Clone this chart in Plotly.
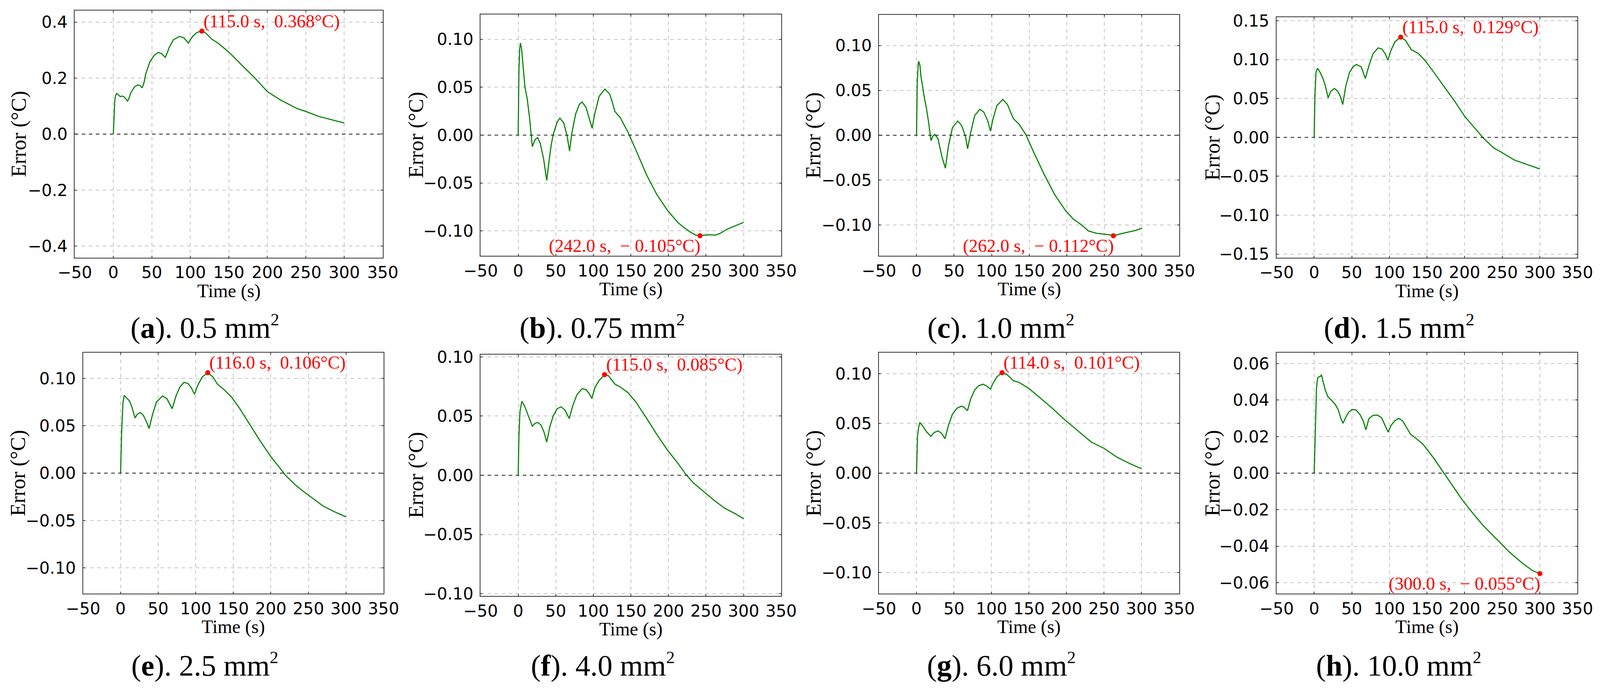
import plotly.graph_objects as go
from plotly.subplots import make_subplots

W, H = 4269, 1772

# ---- data (time in s, error in degC) ----
t_a = [0, 1, 2, 3, 4.5, 7, 9, 11.5, 14, 16, 18.5, 20.5, 22.5, 25, 28, 32, 35, 37.5, 40, 42, 45, 47.5,
       53, 58.5, 63, 67.5, 70, 72.5, 78, 86, 92, 97.5, 100, 103, 108.5, 115, 120, 125, 128, 136,
       150, 167, 184, 200, 217, 239, 250, 267, 284, 300]
err_a = [0.0, 0.075, 0.122, 0.138, 0.145, 0.139, 0.134, 0.136, 0.133, 0.127, 0.118, 0.128, 0.146,
         0.158, 0.170, 0.176, 0.173, 0.165, 0.185, 0.214, 0.238, 0.258, 0.281, 0.292, 0.287, 0.274,
         0.290, 0.309, 0.337, 0.349, 0.343, 0.325, 0.337, 0.349, 0.363, 0.368, 0.361, 0.347, 0.339,
         0.325, 0.293, 0.246, 0.200, 0.152, 0.122, 0.091, 0.081, 0.063, 0.051, 0.040]

t_b = [0, 1, 2, 3, 4.5, 5.6, 7.5, 9, 12, 15.3, 18.8, 22.3, 25.8, 29.3, 33.8, 38, 41.5, 44, 46.7, 52,
       55.5, 60.7, 65.2, 68.4, 71.2, 76.4, 81.6, 85.1, 90.3, 95.6, 98.4, 101.8, 107.8, 115.5, 121.7,
       125, 128.7, 135.7, 146, 156.6, 170.6, 184.5, 198.5, 212.4, 219.4, 229.9, 236.9, 242, 247.3,
       254.3, 262, 268.2, 278.7, 289.2, 300]
err_b = [0.0, 0.0685, 0.090, 0.096, 0.090, 0.080, 0.062, 0.050, 0.038, 0.017, -0.012, -0.005,
         -0.0026, -0.0084, -0.0247, -0.0473, -0.0247, -0.010, 0.001, 0.0138, 0.0177, 0.0126,
         -0.0014, -0.0166, 0.0009, 0.0219, 0.0324, 0.0345, 0.0289, 0.0149, 0.0072, 0.0219, 0.0406,
         0.048, 0.0429, 0.035, 0.0247, 0.0184, 0.0033, -0.0154, -0.041, -0.062, -0.0783, -0.0911,
         -0.0958, -0.1016, -0.1045, -0.105, -0.1044, -0.1040, -0.1044, -0.1028, -0.098, -0.0946,
         -0.0911]

t_c = [0, 1, 2.4, 3.1, 4.5, 6, 8, 10, 13.6, 16.5, 19.2, 21.6, 24.4, 28.6, 33.8, 38.4, 42.6, 47.8,
       54.8, 60, 65.2, 68, 72.2, 77.4, 84.4, 89.6, 94.9, 98.4, 101.8, 107, 114.8, 121, 128.7, 136.7,
       145.4, 155.9, 169.9, 183.8, 197.8, 208.3, 218.7, 229.2, 239.7, 250.2, 257.1, 262, 271, 281.5,
       292, 300]
err_c = [0.0, 0.060, 0.0815, 0.082, 0.078, 0.065, 0.055, 0.044, 0.028, 0.012, -0.006, -0.001,
         0.001, -0.004, -0.0238, -0.0367, -0.0114, 0.0084, 0.0159, 0.011, -0.0015, -0.0151, 0.0035,
         0.022, 0.029, 0.0258, 0.0159, 0.0047, 0.0183, 0.0332, 0.040, 0.0344, 0.0188, 0.0121, 0.001,
         -0.0188, -0.0436, -0.066, -0.0833, -0.0932, -0.0994, -0.1068, -0.1093, -0.1105, -0.1110,
         -0.112, -0.110, -0.108, -0.106, -0.1036]

t_d = [0, 1, 2.4, 4.5, 7.2, 11.4, 14.8, 18.6, 22.1, 26.9, 31.4, 35, 38, 41.8, 47, 52.1, 56.3, 62.5,
       68, 72.8, 78, 84.9, 90, 94.2, 98, 102.2, 107.4, 115, 121.2, 129.1, 138.4, 147, 159.1, 172.9,
       186.7, 200.5, 214.4, 224.7, 238.5, 248.9, 266.1, 283.4, 300]
err_d = [0.0, 0.052, 0.0837, 0.0889, 0.085, 0.0766, 0.0666, 0.0509, 0.0594, 0.0629, 0.0594, 0.052,
         0.0423, 0.0651, 0.0837, 0.0914, 0.0937, 0.0909, 0.0757, 0.0923, 0.1071, 0.1151, 0.1137,
         0.108, 0.0994, 0.1123, 0.1231, 0.129, 0.125, 0.1129, 0.108, 0.0994, 0.0837, 0.0651, 0.0466,
         0.0266, 0.0109, -0.0006, -0.0134, -0.0191, -0.0291, -0.0349, -0.0406]

t_e = [0, 1.4, 3.1, 4.9, 7.7, 11.9, 15.3, 19.2, 22.3, 26.2, 30.3, 34, 38, 42.6, 47.8, 55.8, 61.7,
       65.5, 68.7, 73.9, 79.2, 84.4, 89.6, 94.2, 98.4, 102.5, 108.8, 116, 122.8, 129.1, 136.7, 147.2,
       157.7, 171.6, 185.6, 199.5, 210, 220.4, 230.9, 241.4, 255.3, 269.2, 283.2, 300]
err_e = [0.0, 0.0435, 0.0738, 0.082, 0.0796, 0.0761, 0.0692, 0.0582, 0.0622, 0.064, 0.061, 0.055,
         0.047, 0.0622, 0.075, 0.0815, 0.0785, 0.073, 0.068, 0.0817, 0.0912, 0.0958, 0.0946, 0.090,
         0.0831, 0.0923, 0.1016, 0.106, 0.1016, 0.0936, 0.0888, 0.0807, 0.0692, 0.0517, 0.0342,
         0.0179, 0.0075, -0.003, -0.0112, -0.0182, -0.0263, -0.0345, -0.0403, -0.0461]

t_f = [0, 1, 2.4, 4.9, 8.4, 13.6, 18.8, 22.3, 25.8, 30.3, 34.5, 38, 42.2, 46.7, 52, 57.2, 62.4, 68,
       72.2, 78.1, 85.1, 90.3, 94.5, 98, 102.5, 107.8, 115, 120, 128.7, 135.7, 146, 156.6, 170.6,
       184.5, 198.5, 212.4, 222.9, 233.3, 247.3, 261.2, 275.2, 289.2, 300]
err_f = [0.0, 0.0336, 0.054, 0.0624, 0.0587, 0.0503, 0.0414, 0.0438, 0.0447, 0.0425, 0.0363, 0.028,
         0.041, 0.0503, 0.0563, 0.0578, 0.055, 0.0479, 0.0578, 0.068, 0.0731, 0.0724, 0.069, 0.0649,
         0.0746, 0.0801, 0.085, 0.0842, 0.077, 0.0746, 0.0699, 0.0619, 0.0485, 0.0345, 0.0214,
         0.0103, 0.0009, -0.0065, -0.014, -0.0214, -0.028, -0.0326, -0.0367]

t_g = [0, 1.4, 2.8, 4.5, 8.7, 13.6, 19.2, 23.4, 28.6, 33.1, 38, 42.6, 47.8, 54.1, 60, 63.5, 68,
       72.2, 77.4, 82.6, 88.6, 93.1, 98.4, 101.8, 107.1, 114, 121, 129.1, 136.7, 148.9, 162.9,
       180.3, 197.8, 215.2, 232.7, 250.1, 267.5, 285, 300]
err_g = [0.0, 0.037, 0.0458, 0.0509, 0.0469, 0.0414, 0.037, 0.0407, 0.0425, 0.0403, 0.0347, 0.048,
         0.0591, 0.0653, 0.0673, 0.0662, 0.0628, 0.0746, 0.0834, 0.0878, 0.0894, 0.0878, 0.0845,
         0.090, 0.0967, 0.101, 0.0989, 0.0929, 0.0912, 0.0856, 0.0768, 0.0657, 0.0535, 0.0425,
         0.0314, 0.0248, 0.0159, 0.0093, 0.0044]

t_h = [0, 1.7, 3.1, 4.5, 6.2, 8.3, 9.7, 11.4, 14.8, 18.3, 22.8, 28, 32.1, 35.5, 38.3, 41.8, 45.9,
       50.4, 55.6, 60.7, 65.2, 68.7, 72.8, 78, 83.9, 89.4, 94.2, 98.4, 102.2, 107.4, 112.5, 117.7,
       122.9, 128.1, 135, 145.3, 159.1, 171.2, 183.3, 197.1, 210.9, 224.7, 242, 259.2, 276.5,
       290.3, 300]
err_h = [0.0, 0.025, 0.0466, 0.052, 0.0527, 0.0529, 0.0539, 0.0508, 0.0454, 0.0418, 0.040, 0.0376,
         0.0346, 0.030, 0.0273, 0.0304, 0.0334, 0.0348, 0.0346, 0.0322, 0.0286, 0.0237, 0.0298,
         0.0316, 0.0318, 0.0304, 0.0261, 0.0225, 0.0261, 0.0288, 0.030, 0.0286, 0.0249, 0.0213,
         0.0192, 0.0155, 0.0081, 0.0008, -0.0064, -0.0148, -0.022, -0.0287, -0.0359, -0.0431,
         -0.0492, -0.0534, -0.055]

letters = ["a", "b", "c", "d", "e", "f", "g", "h"]
sections = ["0.5", "0.75", "1.0", "1.5", "2.5", "4.0", "6.0", "10.0"]
x_ticks = [-50, 0, 50, 100, 150, 200, 250, 300, 350]

series = [(t_a, err_a), (t_b, err_b), (t_c, err_c), (t_d, err_d),
          (t_e, err_e), (t_f, err_f), (t_g, err_g), (t_h, err_h)]

# ---- layout (pixel boxes of each plot area: left, right, top, bottom) ----
boxes = [(192, 1017, 19, 658), (1279, 2084, 29, 653), (2346, 3151, 30, 653), (3411, 4217, 36, 658),
         (214, 1019, 903, 1526), (1279, 2084, 908, 1532), (2346, 3150, 903, 1526), (3411, 4217, 903, 1526)]
y_dtick = [0.2, 0.05, 0.05, 0.05, 0.05, 0.05, 0.05, 0.02]
y_fmt = [".1f", ".2f", ".2f", ".2f", ".2f", ".2f", ".2f", ".2f"]
ylab_offset = [150, 173, 175, 172, 175, 173, 175, 172]
caption_x = [540, 1605, 2673, 3739, 540, 1606, 2674, 3738]
caption_y = [838, 838, 838, 838, 1710, 1710, 1710, 1710]

SERIF = "Liberation Serif"
SANS = "DejaVu Sans"


def px(v):
    return v / W


def py(v):
    return 1 - v / H


def peak_label(t, e):
    """Format the point of largest absolute error like the original annotation."""
    if e < 0:
        return f"({t:.1f} s,  − {abs(e):.3f}°C)"
    return f"({t:.1f} s,  {e:.3f}°C)"


fig = make_subplots(rows=2, cols=4)
annotations = []

for i, (t, err) in enumerate(series):
    row, col = i // 4 + 1, i % 4 + 1
    n = "" if i == 0 else str(i + 1)
    left, right, top, bottom = boxes[i]

    fig.add_trace(go.Scatter(x=t, y=err, mode="lines",
                             line=dict(color="#008000", width=2.8),
                             showlegend=False), row=row, col=col)

    # largest absolute error
    k = max(range(len(err)), key=lambda j: abs(err[j]))
    fig.add_trace(go.Scatter(x=[t[k]], y=[err[k]], mode="markers",
                             marker=dict(color="#ff0000", size=13),
                             showlegend=False), row=row, col=col)
    neg = err[k] < 0
    annotations.append(dict(x=t[k], y=err[k], xref=f"x{n}", yref=f"y{n}",
                            text=peak_label(t[k], err[k]), showarrow=False,
                            xanchor="right" if neg else "left",
                            yanchor="top" if neg else "bottom",
                            xshift=3 if neg else 2, yshift=2 if neg else -2,
                            font=dict(family=SERIF, size=46, color="#ff0000")))

    fig.add_hline(y=0, line=dict(color="#222222", width=2, dash="dash"), row=row, col=col)

    ylim = 1.2 * abs(err[k])
    axis_common = dict(showline=True, mirror="ticks", linecolor="#333333", linewidth=2,
                       showgrid=True, gridcolor="#c4c4c4", gridwidth=1.5, griddash="dash",
                       zeroline=False, ticks="inside", ticklen=5, tickwidth=1.5,
                       tickcolor="#333333", automargin=False,
                       tickfont=dict(family=SANS, size=42, color="black"))
    fig.update_layout({
        f"xaxis{n}": dict(domain=[px(left), px(right)], range=[-50, 350],
                          tickvals=x_ticks, ticklabelstandoff=0, **axis_common),
        f"yaxis{n}": dict(domain=[py(bottom), py(top)], range=[-ylim, ylim],
                          dtick=y_dtick[i], tick0=0, tickformat=y_fmt[i],
                          ticklabelstandoff=8, **axis_common),
    })

    # axis titles
    annotations.append(dict(x=px((left + right) / 2), y=py(bottom + 86), xref="paper", yref="paper",
                            text="Time (s)", showarrow=False, xanchor="center", yanchor="middle",
                            font=dict(family=SERIF, size=48, color="black")))
    annotations.append(dict(x=px(left - ylab_offset[i]), y=py((top + bottom) / 2),
                            xref="paper", yref="paper", text="Error (°C)", showarrow=False,
                            textangle=-90, xanchor="center", yanchor="middle",
                            font=dict(family=SERIF, size=54, color="black")))
    # caption below the panel
    annotations.append(dict(x=px(caption_x[i]), y=py(caption_y[i]), xref="paper", yref="paper",
                            text=(f"(<b>{letters[i]}</b>). {sections[i]} mm"
                                  "<sup><span style='font-size:44px'>2</span></sup>"),
                            showarrow=False, xanchor="center", yanchor="middle",
                            font=dict(family=SERIF, size=76, color="black")))

# no fixed width/height: the figure fills the browser window
fig.update_layout(autosize=True, margin=dict(l=0, r=0, t=0, b=0),
                  paper_bgcolor="white", plot_bgcolor="white",
                  annotations=list(fig.layout.annotations) + annotations)

fig.write_html("out.html")
